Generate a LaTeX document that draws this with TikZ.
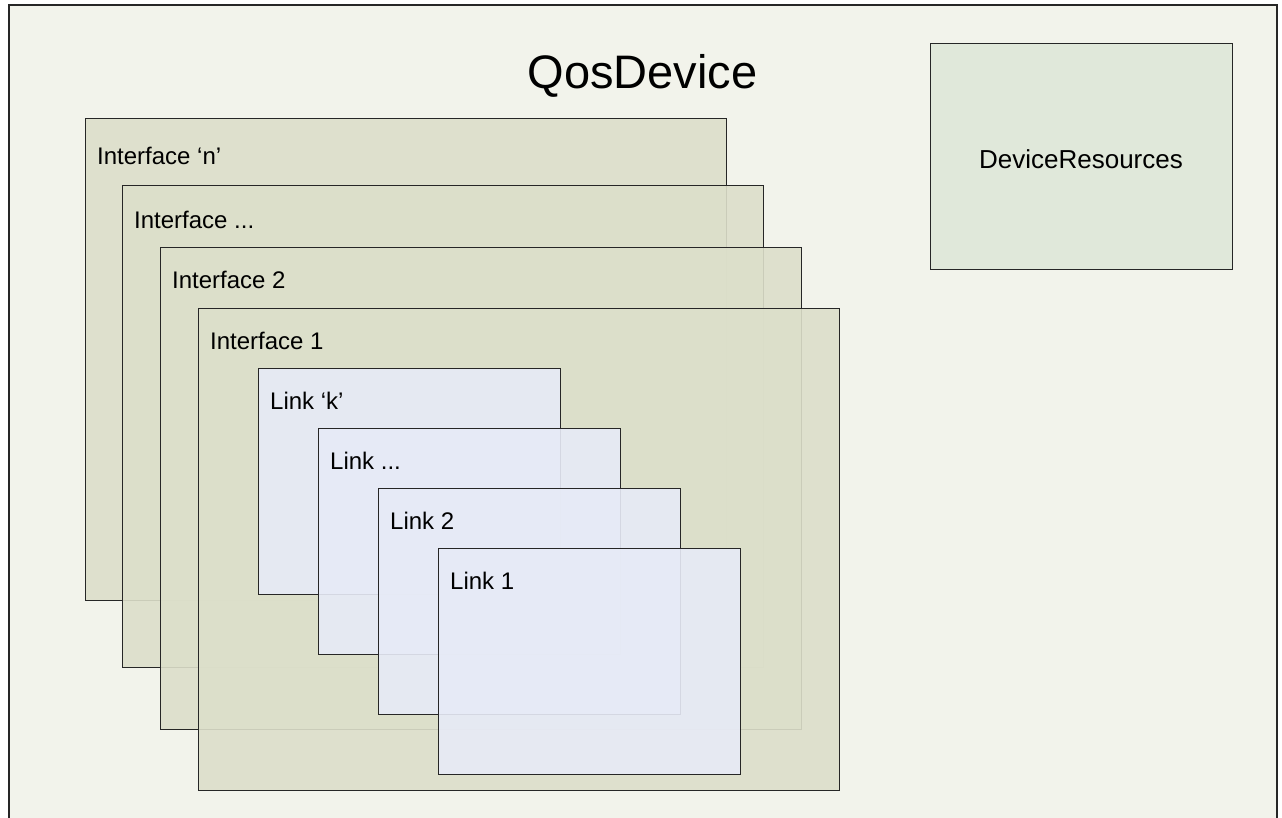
\documentclass[tikz,border=0pt]{standalone}
\usepackage{fontspec}
\setmainfont{Liberation Sans}
\definecolor{pagebg}{HTML}{F2F3EB}
\definecolor{iffill}{HTML}{DCDFCA}
\definecolor{linkfill}{HTML}{E7EBF7}
\definecolor{resfill}{HTML}{E0E8DA}
\tikzset{
  ifbox/.style={rectangle, draw=black!85, line width=1pt, fill=iffill,
    fill opacity=0.9, text opacity=1, anchor=north west,
    minimum width=641pt, minimum height=482pt, inner sep=0pt},
  linkbox/.style={rectangle, draw=black!85, line width=1pt, fill=linkfill,
    fill opacity=0.9, text opacity=1, anchor=north west,
    minimum width=302pt, minimum height=226pt, inner sep=0pt},
  lbl/.style={font=\fontsize{24}{28}\selectfont, inner sep=0pt,
    anchor=base west, xshift=12pt, yshift=-41pt, fill opacity=1, text opacity=1}
}
\begin{document}
\begin{tikzpicture}[x=1pt,y=1pt]
  \useasboundingbox (0,0) rectangle (1282,-817);
  \clip (0,0) rectangle (1282,-817);
  \fill[white] (0,0) rectangle (1282,-817);
  \draw[fill=pagebg, draw=black!85, line width=1.5pt] (9,-5) rectangle (1277,-840);

  \node[font=\fontsize{47}{52}\selectfont, anchor=base, inner sep=0pt] (title) at (642.5,-88) {QosDevice};

  \node[rectangle, draw=black!85, line width=1pt, fill=resfill,
    minimum width=302pt, minimum height=226pt, inner sep=0pt,
    font=\fontsize{26}{30}\selectfont] (res) at (1081,-156) {};
  \node[font=\fontsize{26}{30}\selectfont, anchor=base, inner sep=0pt] (restext) at (1081,-168) {DeviceResources};

  % interfaces, back to front
  \node[ifbox, label={[lbl, yshift=-5pt]north west:Interface ‘n’}] (ifn) at (85,-118) {};
  \node[ifbox, label={[lbl, yshift=-2pt]north west:Interface ...}] (ifdots) at (122,-185) {};
  \node[ifbox, label={[lbl]north west:Interface 2}] (iftwo) at (160,-247) {};
  \node[ifbox, label={[lbl]north west:Interface 1}] (ifone) at (198,-308) {};

  % links inside interface 1
  \node[linkbox, label={[lbl]north west:Link ‘k’}] (linkk) at (258,-368) {};
  \node[linkbox, label={[lbl]north west:Link ...}] (linkdots) at (318,-428) {};
  \node[linkbox, label={[lbl]north west:Link 2}] (linktwo) at (378,-488) {};
  \node[linkbox, label={[lbl]north west:Link 1}] (linkone) at (438,-548) {};
\end{tikzpicture}
\end{document}
